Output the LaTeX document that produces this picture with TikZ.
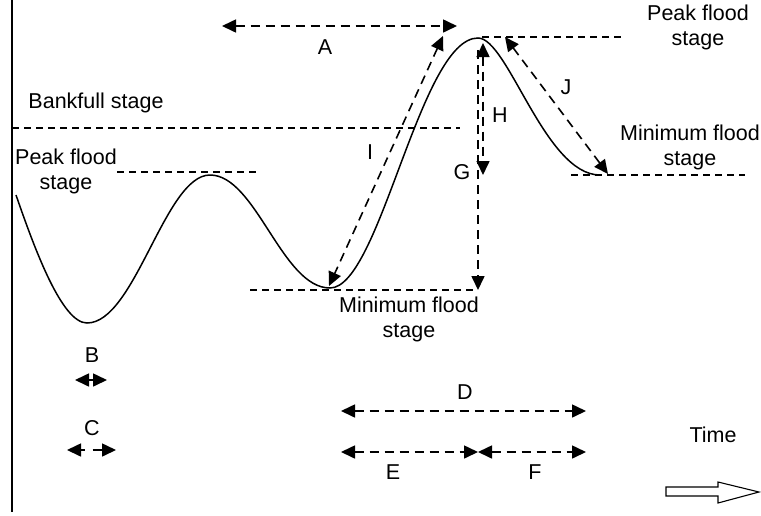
\documentclass[tikz,border=0pt]{standalone}
\usepackage{fontspec}
\setmainfont{Liberation Sans}
\usetikzlibrary{arrows.meta}
\begin{document}
\begin{tikzpicture}[x=1pt,y=-1pt,
  tip/.tip={Triangle[length=14pt,width=13pt]},
  lbl/.style={font=\fontsize{21.5}{25}\selectfont,inner sep=0pt,align=center},
  refline/.style={line width=1.3pt,dash pattern=on 7pt off 5pt},
  dim/.style={line width=1.6pt,dash pattern=on 9pt off 6pt,tip-tip},
  dimend/.style={line width=1.6pt,dash pattern=on 9pt off 6pt,-tip},
  curve/.style={line width=1.5pt}]
\useasboundingbox (0,0) rectangle (761,515);
% axis
\draw[line width=1.4pt] (12,0) -- (12,512);
% reference lines
\draw[refline] (12,128) -- (460,128);
\draw[refline] (117,172) -- (260,172);
\draw[refline] (250,290) -- (476,290);
\draw[refline] (482,37) -- (625,37);
\draw[refline] (571,175) -- (745,175);
% hydrograph
\draw[curve] (16,195) .. controls (35,250) and (62,323) .. (87,323)
  .. controls (135,323) and (165,175) .. (210,175)
  .. controls (256,175) and (282,288) .. (330,288)
  .. controls (380,288) and (420,38) .. (478,38)
  .. controls (508,38) and (545,175) .. (600,175);
% coordinates
\coordinate (a1) at (222,26); \coordinate (a2) at (457,26);
\coordinate (i1) at (443,36); \coordinate (i2) at (329,286);
\coordinate (h1) at (483,43); \coordinate (h2) at (483,175);
\coordinate (g1) at (478,50); \coordinate (g2) at (478,290);
\coordinate (j1) at (505,37); \coordinate (j2) at (608,174);
\coordinate (b1) at (75,380); \coordinate (b2) at (107,380);
\coordinate (c1) at (67,450); \coordinate (c2) at (116,450);
\coordinate (d1) at (341,411); \coordinate (d2) at (586,411);
\coordinate (e1) at (341,452); \coordinate (e2) at (478,452); \coordinate (f2) at (586,452);
% dimension arrows
\draw[dim] (a1) -- (a2);
\draw[dim] (i1) -- (i2);
\draw[dim] (h1) -- (h2);
\draw[dimend] (g1) -- (g2);
\draw[dim] (j1) -- (j2);
\draw[line width=1.6pt,tip-tip] (b1) -- (b2);
\draw[line width=1.6pt,dash pattern=on 4pt off 8pt on 20pt,tip-tip] (c1) -- (c2);
\draw[dim] (d1) -- (d2);
\draw[dim] (e1) -- (e2);
\draw[dim] (e2) -- (f2);
% time arrow
\draw[line width=1.1pt] (666,487) -- (718,487) -- (718,482) -- (759,492) -- (718,503) -- (718,496) -- (666,496) -- cycle;
% labels
\node[lbl] (tbank) at (96,103) {Bankfull stage};
\node[lbl] (tpeakL) at (66,171) {Peak flood\\stage};
\node[lbl] (tpeakR) at (698,27) {Peak flood\\stage};
\node[lbl] (tminR) at (690,147) {Minimum flood\\stage};
\node[lbl] (tminB) at (409,319) {Minimum flood\\stage};
\node[lbl] (lA) at (325,47) {A};
\node[lbl] (lI) at (370,152) {I};
\node[lbl] (lH) at (500,115) {H};
\node[lbl] (lG) at (462,172) {G};
\node[lbl] (lJ) at (566,87) {J};
\node[lbl] (lB) at (92,355) {B};
\node[lbl] (lC) at (92,428) {C};
\node[lbl] (lD) at (465,392) {D};
\node[lbl] (lE) at (393,472) {E};
\node[lbl] (lF) at (535,472) {F};
\node[lbl] (lT) at (713,435) {Time};
\end{tikzpicture}
\end{document}
